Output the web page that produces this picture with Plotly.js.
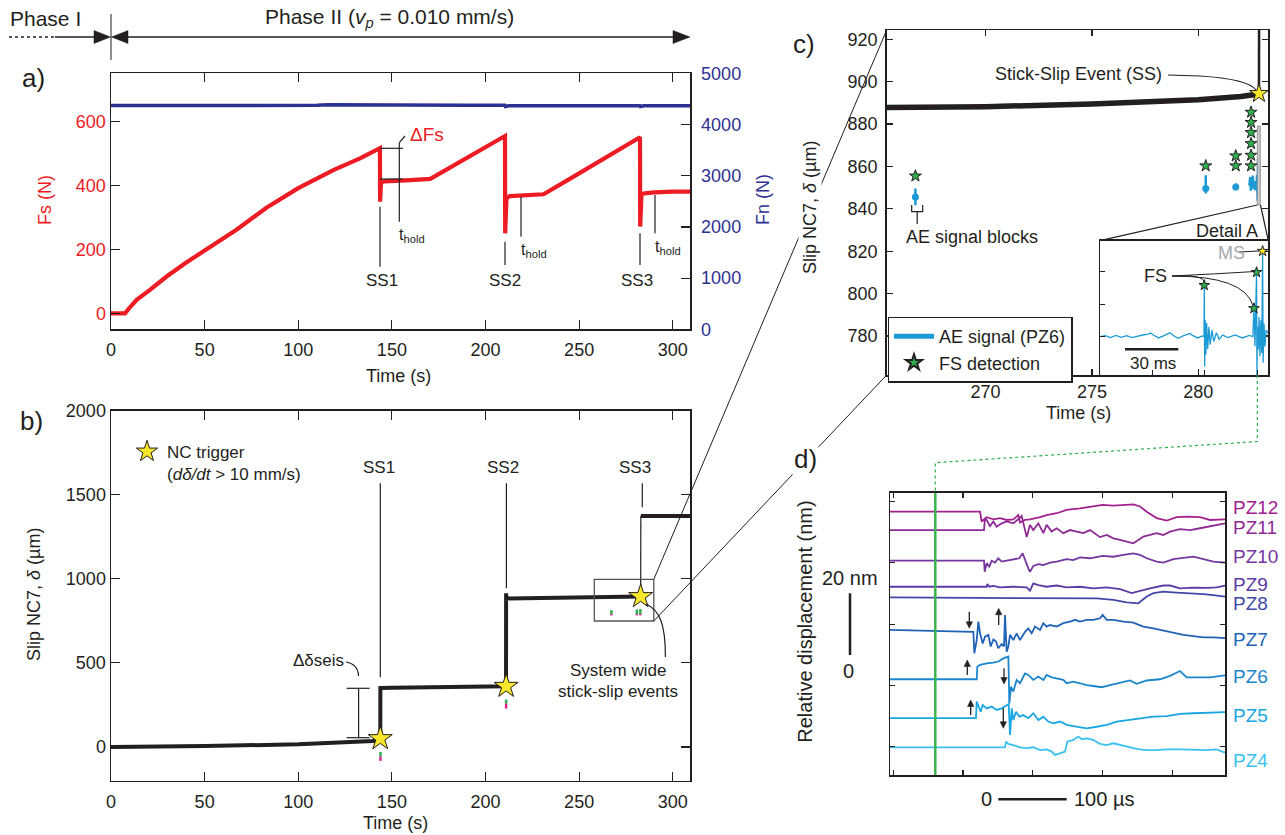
<!DOCTYPE html>
<html><head><meta charset="utf-8">
<script src="https://cdn.plot.ly/plotly-3.0.1.min.js"></script>
<style>html,body{margin:0;padding:0;background:#fff;overflow:hidden}#chart{width:1285px;height:835px}</style>
</head><body><div id="chart"></div>
<script>
// ---------------- DATA ----------------
// Panel a: shear force Fs (N) and normal force Fn (N) vs time (s)
const fsT = [0, 7.5, 10, 13.7, 20.8, 29.7, 40, 50, 67, 83, 100, 119, 133, 143.6, 143.7, 143.8, 144.2, 146, 150, 160, 170.5, 180, 190, 200, 210.4, 210.5, 210.7, 211.2, 213, 220, 231, 245, 260, 270, 282.5, 282.6, 282.8, 283.3, 285, 290, 300, 309.2];
const fsN = [0, 0, 18, 42, 73, 115, 158, 196, 261, 330, 391, 448, 484, 516, 349, 400, 410, 412, 414, 416, 420, 452, 485, 519, 554, 250, 330, 360, 366, 368, 372, 420, 472, 507, 550, 271, 350, 372, 375, 378, 380, 380];
const fnT = [0, 40, 80, 110, 116, 140, 165, 167, 190, 210.3, 210.6, 212.5, 240, 282.4, 282.7, 284.5, 309.2];
const fnN = [4372, 4370, 4373, 4374, 4388, 4390, 4388, 4376, 4378, 4375, 4350, 4366, 4368, 4366, 4352, 4364, 4365];

// Panel b / c: slip NC7 (um) vs time (s)
const slipT = [0, 50, 100, 140, 143.8, 143.85, 150, 180, 209, 210.95, 211.0, 211.1, 230, 250, 265.35, 270, 275, 280, 282, 282.85, 282.95, 309.2];
const slipD = [0, 5, 16, 36, 45, 351, 352, 355, 360, 361, 913, 883, 885, 886.5, 887.4, 888.2, 889.5, 891.5, 893, 894.2, 1373, 1373];
const ssStarT = [143.8, 211.0, 282.85];
const ssStarD = [50, 361, 894.4];
// AE marks under events in panel b
const bAeT = [143.9, 211.0, 267.2, 280.8, 282.7];
const bAeGreenTop = [-30, 282, 813, 817, 820];
const bAeGreenBot = [-56, 258, 790, 790, 790];
const bAeMagBot = [-83, 228, 782, 782, 782];

// Panel c: AE signal blocks and FS detections
const aeBlockT = [266.70, 280.35, 281.76];
const aeBlockLo = [841.7, 847.2, 848.8];
const aeBlockHi = [849.6, 855.9, 852.0];
const aeBlockMid = [845.6, 849.6, 850.3];
const aeNoiseT = [282.40, 282.44, 282.47, 282.50, 282.53, 282.56, 282.60, 282.63, 282.66, 282.70, 282.73, 282.76, 282.79, 282.81, 282.83, 282.86];
const aeNoiseY = [851, 855, 848.6, 854, 849.5, 855.7, 850, 853, 848.8, 852.5, 849, 856, 843.8, 863.5, 845, 860];
const fsDetT = [266.7, 280.35, 281.76, 281.76, 282.48, 282.48, 282.48, 282.48, 282.48, 282.48];
const fsDetY = [855.5, 860.3, 860.3, 865.0, 860.3, 865.3, 870.8, 876.0, 880.8, 885.6];

// Detail A inset: AE signal (ms, a.u.)
const insetT = [0, 3, 6, 9, 12, 15, 18, 21, 24, 27, 28.5, 30, 33, 36, 39.4, 41, 44, 47, 50.6, 52, 55, 57.5, 58.5, 58.7, 58.9, 59.2, 59.6, 60, 60.6, 61.3, 62, 63, 64, 65.5, 67, 69, 72, 76, 80, 84, 86.0, 86.6, 87.2, 88.1, 88.3, 88.6, 89, 89.5, 90, 90.5, 91, 91.5, 91.8, 92.3, 92.8, 93.5, 94.7];
const insetY = [0, 0.03, -0.03, 0.04, -0.02, 0.03, -0.03, 0.02, 0.05, 0.08, 0.11, 0.05, -0.04, 0.03, 0.12, 0.04, -0.05, 0.03, 0.1, 0.04, -0.04, 0.02, 0, 1.64, -0.92, 0.5, -0.55, 0.42, -0.38, 0.3, -0.25, 0.2, -0.15, 0.12, -0.08, 0.05, -0.03, 0.05, -0.04, 0.04, 0, 0.9, -0.3, 2.0, -1.18, 0.3, -0.4, 0.6, -0.6, 0.5, -0.5, 2.65, -0.8, 0.4, -0.3, 0.2, 0.1];
const insetFsT = [58.7, 86.6, 88.1];
const insetFsY = [1.58, 0.87, 1.98];
const insetMsT = [91.5];
const insetMsY = [2.63];

// Panel d: relative displacement (nm) vs time (us)
const pz12T = [-4.8,124.3,126.6,133.8,143.4,152.9,162.5,172.0,179.2,181.6,188.8,195.9,210.3,219.8,234.2,248.5,267.6,286.7,300.1,315.4,334.5,344.1,353.6,363.2,377.5,391.9,406.2,420.6,439.7,454.0,475.5];
const pz12Y = [76.7,76.7,73.5,74.9,74.2,74.6,74.0,74.2,75.6,73.2,74.0,74.2,74.9,75.6,76.2,77.3,77.8,78.4,78.9,78.7,78.9,79.1,78.4,76.7,74.6,73.8,74.9,75.1,74.9,74.0,74.2];
const pz11T = [-4.8,130.0,131.4,133.8,138.6,143.4,148.1,155.3,162.5,172.0,177.8,184.0,191.2,195.9,200.7,207.9,215.1,219.8,227.0,234.2,243.7,253.3,262.8,272.4,282.0,291.5,296.3,305.9,315.4,325.0,334.5,344.1,351.3,358.4,368.0,377.5,387.1,396.7,411.0,425.3,439.7,454.0,475.5];
const pz11Y = [70.7,70.7,74.6,74.0,72.0,73.5,71.8,72.9,73.5,72.9,74.0,75.3,68.4,72.4,70.7,72.9,69.7,72.4,70.2,71.3,69.7,70.7,70.2,69.7,70.7,69.1,68.4,69.1,68.0,67.5,66.9,66.4,67.5,68.6,69.1,69.7,69.1,70.2,71.0,70.7,71.3,72.0,72.9];
const pz10T = [-4.8,130.0,131.0,133.8,137.6,141.0,145.8,150.5,155.3,162.5,172.0,180.6,185.4,188.8,193.5,195.9,200.7,207.9,215.1,224.6,234.2,248.5,258.1,267.6,282.0,300.1,315.4,329.8,344.1,353.6,363.2,377.5,387.1,401.4,415.8,430.1,444.5,458.8,475.5];
const pz10Y = [60.7,60.7,57.1,59.9,58.8,60.7,60.1,61.5,60.4,60.7,60.9,61.5,63.1,60.9,58.2,57.1,59.0,59.6,59.3,60.1,60.4,61.2,60.9,61.8,61.5,62.3,62.0,62.6,63.1,62.6,61.5,60.4,60.1,61.2,61.5,62.0,61.2,60.4,60.1];
const pz9T = [-4.8,133.8,134.8,137.6,143.4,152.9,172.0,191.2,195.9,200.7,207.9,219.8,234.2,248.5,267.6,286.7,305.9,325.0,341.7,353.6,368.0,387.1,396.7,411.0,430.1,449.2,463.6,475.5];
const pz9Y = [52.2,52.2,53.1,52.2,52.5,52.0,52.2,52.0,50.9,53.3,52.7,52.2,52.6,52.0,52.2,51.7,52.0,51.4,50.1,50.9,51.7,52.6,52.6,51.7,51.9,51.8,52.0,52.6];
const pz8T = [-4.8,291.5,315.4,334.5,351.3,363.2,372.8,387.1,406.2,425.3,444.5,458.8,475.5];
const pz8Y = [48.7,48.4,47.9,47.1,46.8,49.0,50.1,50.6,50.3,50.1,49.8,49.5,49.0];
const pz7T = [-4.8,114.7,116.1,119.5,121.9,124.3,128.1,131.4,136.2,139.6,143.4,147.2,150.5,155.3,158.7,160.1,162.5,164.9,167.3,172.0,176.8,181.6,188.8,193.5,198.3,203.1,210.3,215.1,219.8,224.6,234.2,243.7,253.3,260.5,267.6,277.2,286.7,296.3,300.1,305.9,315.4,329.8,344.1,358.4,372.8,387.1,401.4,415.8,430.1,444.5,458.8,475.5];
const pz7Y = [38.1,37.5,30.5,34.8,40.8,37.0,33.7,35.9,36.5,32.7,35.0,34.3,32.1,33.5,32.7,43.0,31.0,32.7,36.5,34.8,37.0,34.8,37.5,38.6,37.0,39.2,38.1,40.3,39.2,39.7,39.2,40.3,40.8,41.4,40.8,41.4,41.4,41.9,43.0,41.4,41.4,40.8,40.5,39.2,38.6,37.9,37.2,36.5,36.1,35.7,35.7,35.4];
const pz6T = [-4.8,119.5,120.4,124.3,133.8,143.4,150.5,157.7,164.9,166.3,168.7,172.0,176.8,181.6,188.8,193.5,200.7,207.9,215.1,219.8,227.0,234.2,243.7,248.5,258.1,267.6,277.2,286.7,298.7,310.6,325.0,339.3,348.9,363.2,382.3,396.7,411.0,420.6,434.9,454.0,475.5];
const pz6Y = [22.0,22.0,26.1,26.7,27.2,27.4,27.8,28.8,29.4,14.1,19.6,18.0,21.8,20.7,23.9,23.4,21.8,22.9,21.8,23.4,22.6,22.3,21.8,20.7,21.2,20.7,20.1,19.8,19.4,20.1,20.9,21.6,20.5,21.6,22.0,23.1,24.7,22.6,22.6,22.6,23.3];
const pz5T = [-4.8,118.5,119.5,122.3,125.2,128.1,133.8,141.0,148.1,155.3,162.5,165.4,167.3,169.7,172.0,175.9,180.6,186.4,193.5,200.7,207.9,215.1,222.2,229.4,238.9,248.5,258.1,265.2,277.2,291.5,305.9,320.2,334.5,353.6,372.8,391.9,411.0,430.1,449.2,475.5];
const pz5Y = [9.3,9.3,14.7,13.1,11.4,13.6,12.5,13.1,12.0,12.5,13.6,13.9,3.8,12.5,8.7,11.4,9.8,10.3,9.3,10.9,8.7,9.8,8.2,7.6,8.2,7.1,6.7,6.5,6.0,6.5,7.1,8.2,8.7,9.3,9.8,10.0,10.7,10.9,11.1,11.3];
const pz4T = [-4.8,160.1,161.5,164.9,172.0,181.6,191.2,200.7,210.3,219.8,227.0,231.8,238.9,246.1,249.5,258.1,265.2,270.0,277.2,286.7,296.3,305.9,315.4,325.0,334.5,344.1,353.6,363.2,377.5,391.9,411.0,430.1,449.2,463.6,475.5];
const pz4Y = [-0.2,-0.2,1.6,0.9,0.5,-0.2,-0.5,-0.2,-1.1,-0.9,-1.6,-2.7,-2.2,-1.6,1.6,2.2,3.3,2.4,2.7,2.2,0.9,0.5,1.1,0.5,0,-0.5,-0.9,-1.1,-1.1,-0.9,-0.9,-1.1,-1.1,-0.9,-2.0];
const pzNames = ['PZ12','PZ11','PZ10','PZ9','PZ8','PZ7','PZ6','PZ5','PZ4'];

// ---------------- STYLE / HELPERS ----------------
const W = 1285, H = 835;
const px = x => x / W;
const py = y => 1 - y / H;
const FONT = 'Liberation Sans, Arial, Helvetica, sans-serif';
const INK = '#231f20';
const RED = '#ed1c24', BLUE = '#2e3192', AEBLUE = '#1c9ad6', GREEN = '#2fae4e', YELLOW = '#f7e62a';
const pzColors = ['#a3218e','#8e2a94','#75369f','#5b3ba5','#4248a6','#2163b7','#1b86cc','#19a6e2','#3ac2ef'];
const pzLabelY = [507.7, 527.3, 556.7, 584, 603.3, 639.3, 676, 715, 760];

const shapes = [];
function L(x0, y0, x1, y1, o) {
  o = o || {};
  shapes.push({type:'line', xref:'paper', yref:'paper', x0:px(x0), y0:py(y0), x1:px(x1), y1:py(y1),
    line:{color:o.color || INK, width:o.width || 1.2, dash:o.dash || 'solid'}});
}
function P(d, o) {
  o = o || {};
  const path = d.replace(/(-?[\d.]+)[ ,]+(-?[\d.]+)/g, (m, a, b) => px(+a) + ',' + py(+b));
  shapes.push({type:'path', xref:'paper', yref:'paper', path,
    line:{color:o.color || INK, width:o.width === undefined ? 1.2 : o.width, dash:o.dash || 'solid'},
    fillcolor:o.fill || 'rgba(0,0,0,0)'});
}
function R(x0, y0, x1, y1, o) {
  o = o || {};
  shapes.push({type:'rect', xref:'paper', yref:'paper', x0:px(x0), y0:py(y1), x1:px(x1), y1:py(y0),
    line:{color:o.color || INK, width:o.width || 1.2}, fillcolor:o.fill || 'rgba(0,0,0,0)'});
}
function arrow(x, yFrom, yTo) {
  const s = yTo > yFrom ? 1 : -1;
  L(x, yFrom, x, yTo - s * 4, {width:1.3});
  P(`M ${x-3.2} ${yTo - s*6.5} L ${x+3.2} ${yTo - s*6.5} L ${x} ${yTo} Z`, {fill:INK, width:0.5});
}
const annotations = [];
function A(text, x, y, o) {
  o = o || {};
  const a = {text, x:px(x), y:py(y), xref:'paper', yref:'paper', showarrow:false,
    xanchor:o.xanchor || 'center', yanchor:o.yanchor || 'middle',
    font:{family:FONT, size:o.size || 18, color:o.color || INK}};
  if (o.angle !== undefined) a.textangle = o.angle;
  if (o.bg) { a.bgcolor = o.bg; }
  annotations.push(a);
}

// ---------------- TRACES ----------------
const traces = [];
function segs(xs, lo, hi) {
  const X = [], Y = [];
  xs.forEach((t, i) => { X.push(t, t, null); Y.push(lo[i], hi[i], null); });
  return {X, Y};
}

// Panel c: AE blocks (legend entry) + noise + dots, FS stars (legend entry)
const aeSeg = segs(aeBlockT, aeBlockLo, aeBlockHi);
traces.push({x: aeSeg.X.concat(aeNoiseT), y: aeSeg.Y.concat(aeNoiseY), xaxis:'x3', yaxis:'y4', mode:'lines',
  line:{color:AEBLUE, width:2.5}, name:'AE signal (PZ6)', legend:'legend', showlegend:true, hoverinfo:'skip'});
traces.push({x: fsDetT, y: fsDetY, xaxis:'x3', yaxis:'y4', mode:'markers', name:'FS detection', legend:'legend',
  marker:{symbol:'star', size:9, color:GREEN, line:{color:INK, width:1}}, showlegend:true, hoverinfo:'skip'});
traces.push({x: aeBlockT, y: aeBlockMid, xaxis:'x3', yaxis:'y4', mode:'markers',
  marker:{size:7, color:AEBLUE}, showlegend:false, hoverinfo:'skip'});

// Panel a
traces.push({x: fnT, y: fnN, xaxis:'x', yaxis:'y2', mode:'lines', line:{color:BLUE, width:3.5}, showlegend:false, hoverinfo:'skip'});
traces.push({x: fsT, y: fsN, xaxis:'x', yaxis:'y', mode:'lines', line:{color:RED, width:4.2}, showlegend:false, hoverinfo:'skip'});

// Panel b + c slip
function slipTraces(xa, ya, wThick, wJump) {
  traces.push({x: slipT.slice(0, 20), y: slipD.slice(0, 20), xaxis:xa, yaxis:ya, mode:'lines', line:{color:INK, width:wThick}, showlegend:false, hoverinfo:'skip'});
  traces.push({x: slipT.slice(19, 21), y: slipD.slice(19, 21), xaxis:xa, yaxis:ya, mode:'lines', line:{color:INK, width:wJump}, showlegend:false, hoverinfo:'skip'});
  traces.push({x: slipT.slice(20), y: slipD.slice(20), xaxis:xa, yaxis:ya, mode:'lines', line:{color:INK, width:wThick}, showlegend:false, hoverinfo:'skip'});
}
slipTraces('x2', 'y3', 4, 1.2);
slipTraces('x3', 'y4', 5.5, 2.5);

const gSeg = segs(bAeT, bAeGreenTop, bAeGreenBot);
const mSeg = segs(bAeT, bAeGreenBot, bAeMagBot);
traces.push({x: gSeg.X, y: gSeg.Y, xaxis:'x2', yaxis:'y3', mode:'lines', line:{color:GREEN, width:2.5}, showlegend:false, hoverinfo:'skip'});
traces.push({x: mSeg.X, y: mSeg.Y, xaxis:'x2', yaxis:'y3', mode:'lines', line:{color:'#d42a8c', width:2.5}, showlegend:false, hoverinfo:'skip'});
traces.push({x: ssStarT, y: ssStarD, xaxis:'x2', yaxis:'y3', mode:'markers', name:'NC trigger<br>(<i>dδ/dt</i> > 10 mm/s)', legend:'legend2',
  marker:{symbol:'star', size:18, color:YELLOW, line:{color:INK, width:1}}, showlegend:true, hoverinfo:'skip'});
traces.push({x: ssStarT, y: ssStarD, xaxis:'x3', yaxis:'y4', mode:'markers',
  marker:{symbol:'star', size:14, color:YELLOW, line:{color:INK, width:1}}, showlegend:false, hoverinfo:'skip'});

// Inset
traces.push({x: insetT, y: insetY, xaxis:'x4', yaxis:'y5', mode:'lines', line:{color:AEBLUE, width:1.3}, showlegend:false, hoverinfo:'skip'});
traces.push({x: insetFsT, y: insetFsY, xaxis:'x4', yaxis:'y5', mode:'markers', marker:{symbol:'star', size:8, color:GREEN, line:{color:INK, width:1}}, showlegend:false, hoverinfo:'skip'});
traces.push({x: insetMsT, y: insetMsY, xaxis:'x4', yaxis:'y5', mode:'markers', marker:{symbol:'star', size:8, color:YELLOW, line:{color:INK, width:1}}, showlegend:false, hoverinfo:'skip'});

// Panel d
const pzT = [pz12T, pz11T, pz10T, pz9T, pz8T, pz7T, pz6T, pz5T, pz4T];
const pzY = [pz12Y, pz11Y, pz10Y, pz9Y, pz8Y, pz7Y, pz6Y, pz5Y, pz4Y];
pzNames.forEach((n, i) => {
  traces.push({x: pzT[i], y: pzY[i], xaxis:'x5', yaxis:'y6', mode:'lines', name:n, line:{color:pzColors[i], width:1.8}, showlegend:false, hoverinfo:'skip'});
});

// ---------------- AXES ----------------
function ax(o) {
  return Object.assign({showline:true, linecolor:INK, linewidth:1.5, ticks:'inside', ticklen:9, tickwidth:1.2, tickcolor:INK,
    showgrid:false, zeroline:false, fixedrange:true, automargin:false, tickfont:{family:FONT, size:18, color:INK}}, o);
}
const layout = {
  width: W, height: H, margin:{l:0, r:0, t:0, b:0, pad:0},
  paper_bgcolor:'#ffffff', plot_bgcolor:'rgba(0,0,0,0)',
  font:{family:FONT, color:INK},
  xaxis: ax({domain:[px(111), px(690)], range:[0, 309.2], anchor:'y', tickvals:[0,50,100,150,200,250,300], mirror:'ticks', ticklabelstandoff:4}),
  yaxis: ax({domain:[py(329.3), py(73.3)], range:[-50, 750], anchor:'x', tickvals:[0,200,400,600], tickfont:{family:FONT, size:18, color:RED}}),
  yaxis2: ax({overlaying:'y', side:'right', anchor:'x', range:[0, 5000], tickvals:[0,1000,2000,3000,4000,5000], ticklabelstandoff:6, tickfont:{family:FONT, size:18, color:BLUE}}),
  xaxis2: ax({domain:[px(111), px(690)], range:[0, 309.2], anchor:'y3', tickvals:[0,50,100,150,200,250,300], mirror:'ticks', ticklabelstandoff:4}),
  yaxis3: ax({domain:[py(780.6), py(410.5)], range:[-200, 2000], anchor:'x2', tickvals:[0,500,1000,1500,2000], mirror:'ticks'}),
  xaxis3: ax({domain:[px(886.7), px(1268.3)], range:[265.35, 283.29], anchor:'y4', tickvals:[270,275,280], mirror:'ticks', ticklen:6}),
  yaxis4: ax({domain:[py(375), py(30)], range:[761.6, 924.4], anchor:'x3', tickvals:[780,800,820,840,860,880,900,920], mirror:'ticks', ticklen:6, ticklabelstandoff:4}),
  xaxis4: ax({domain:[px(1100), px(1268.3)], range:[0, 94.7], anchor:'y5', tickvals:[29.5,59,88.5], ticklen:5, showticklabels:false, mirror:true}),
  yaxis5: ax({domain:[py(375), py(240.7)], range:[-1.18, 2.95], anchor:'x4', tickvals:[0,1,2], ticklen:5, showticklabels:false, mirror:true}),
  xaxis5: ax({domain:[px(890), px(1225)], range:[-4.8, 475.5], anchor:'y6', tickvals:[0,100,200,300,400], ticklen:5, showticklabels:false, mirror:'ticks'}),
  yaxis6: ax({domain:[py(775), py(492.7)], range:[-9.25, 82.9], anchor:'x5', tickvals:[0,20,40,60,80], ticklen:5, showticklabels:false, mirror:'ticks'}),
  legend: {x:px(887.5), y:py(316.5), xanchor:'left', yanchor:'top', bgcolor:'#ffffff', bordercolor:INK, borderwidth:1.5,
    font:{family:FONT, size:18, color:INK}, tracegroupgap:0, itemwidth:40, itemsizing:'constant'},
  legend2: {x:px(127), y:py(434), xanchor:'left', yanchor:'top', bgcolor:'rgba(0,0,0,0)', borderwidth:0,
    font:{family:FONT, size:17, color:INK}, valign:'top'},
  shapes, annotations
};

// ---------------- SHAPES & TEXT ----------------
// header
L(9, 37, 55, 37, {dash:'dot', width:1.5});
L(55, 37, 96, 37, {width:1.5});
P('M 94 30.5 L 110.5 37 L 94 43.5 Z', {fill:INK, width:0.5});
L(111, 14, 111, 60, {width:1});
L(126, 37, 676, 37, {width:1.5});
P('M 128 30.5 L 111.5 37 L 128 43.5 Z', {fill:INK, width:0.5});
P('M 673 30.5 L 690 37 L 673 43.5 Z', {fill:INK, width:0.5});
A('Phase I', 8, 18, {xanchor:'left', size:21});
A('Phase II (<i>v<sub>p</sub></i> = 0.010 mm/s)', 389, 18, {size:21});

// panel a
A('a)', 33, 78, {size:26});
A('Fs (N)', 45, 200, {angle:-90, color:RED});
A('Fn (N)', 763, 200, {angle:-90, color:BLUE});
A('Time (s)', 398, 376);
L(380, 148.3, 403, 148.3); L(380, 179, 403, 179);
L(399.3, 142.7, 399.3, 221.7); L(405, 136, 399.3, 142.7);
A('ΔFs', 408, 134, {xanchor:'left', color:RED, size:19});
L(380, 206.7, 380, 266.7); A('SS1', 382, 280, {size:17});
A('t<sub>hold</sub>', 397, 235, {xanchor:'left', size:16});
L(505, 241.7, 505, 265); A('SS2', 505, 280, {size:17});
L(521, 196.7, 521, 236.7); A('t<sub>hold</sub>', 519, 251, {xanchor:'left', size:16});
L(640, 233.3, 640, 265); A('SS3', 637.3, 280, {size:17});
L(655, 195, 655, 233.3); A('t<sub>hold</sub>', 653, 247, {xanchor:'left', size:16});

// panel b
A('b)', 31, 421, {size:26});
A('Slip NC7, <i>δ</i> (µm)', 34, 595, {angle:-90});
A('Time (s)', 395, 823);
L(380.3, 483.3, 380.3, 677.3); A('SS1', 378.9, 467.3, {size:17});
L(506.4, 483.3, 506.4, 588.3); A('SS2', 502.8, 467.3, {size:17});
L(642.3, 483.3, 642.3, 507.3); A('SS3', 635.3, 467.3, {size:17});
R(594.3, 579.3, 653.8, 621, {color:'#555', width:1.3});
L(358.6, 688.3, 358.6, 737.7); L(346.6, 688.3, 369.7, 688.3); L(346.6, 737.7, 369.7, 737.7);
P('M 346 662 Q 358 664 358.6 676');
A('Δδseis', 318, 660, {size:17});
P('M 646 604 C 660 610 665.5 625 665.4 657');
A('System wide', 618.3, 670, {size:17});
A('stick-slip events', 618.3, 691.7, {size:17});

// connectors b -> c
L(653.8, 579.3, 886.7, 30, {width:1});
L(653.8, 621, 886.7, 375, {width:1});

// panel c
A('c)', 804, 44, {size:26});
A('Slip NC7, <i>δ</i> (µm)', 810, 208, {angle:-90, bg:'#ffffff'});
A('Time (s)', 1078, 413);
A('Stick-Slip Event (SS)', 1078, 74);
P('M 1168 75 L 1200 76 Q 1248 79 1256 90');
P('M 911.7 205 L 911.7 211.7 L 922.7 211.7 L 922.7 205 M 917.2 211.7 L 917.2 224');
A('AE signal blocks', 971.7, 236.7);
R(1257.3, 126, 1260.3, 205, {color:'#888', width:0.8, fill:'#c8c8c8'});
L(1100, 240.7, 1257.3, 205); L(1268.3, 240.7, 1260.5, 205);
A('Detail A', 1226.7, 231);
P('M 1172 276 L 1190 276 Q 1202 277 1204 281', {width:1});
P('M 1172 276 Q 1215 274 1255 271.5', {width:1});
P('M 1172 276 Q 1245 276 1253 306', {width:1});
A('FS', 1155, 276);
L(1239, 252, 1259, 251, {width:1});
A('MS', 1231.7, 253.3, {color:'#a7a9ac'});
L(1125, 349.3, 1178.3, 349.3, {width:2.5});
A('30 ms', 1152.7, 363.3, {size:17});

// link to panel d
P('M 1257.3 375 L 1257.3 441.5 L 935.3 462.7 L 935.3 492.7', {color:GREEN, dash:'dot', width:1.2});

// panel d
A('d)', 805, 459, {size:26, bg:'#ffffff'});
L(935.3, 492.7, 935.3, 775, {color:'#3cb44b', width:2.5});
A('Relative displacement (nm)', 805, 621.7, {angle:-90, size:20});
A('20 nm', 850, 578.3, {size:20});
L(850, 593.3, 850, 655, {width:2.5});
A('0', 848.3, 670.7, {size:20});
A('0', 986.7, 799.3, {size:20});
L(998.3, 799.3, 1066.7, 799.3, {width:2.5});
A('100 µs', 1071.7, 799.3, {size:20, xanchor:'left'});
pzNames.forEach((n, i) => A(n, 1230.5, pzLabelY[i], {xanchor:'left', size:19, color:pzColors[i]}));
arrow(969.3, 611.7, 628.3);
arrow(998.7, 625, 608.3);
arrow(967.3, 675, 660);
arrow(1004, 668.3, 684);
arrow(970.7, 715, 700);
arrow(1003.3, 708.3, 728.3);

Plotly.newPlot('chart', traces, layout, {displayModeBar:false, staticPlot:true});
</script></body></html>
